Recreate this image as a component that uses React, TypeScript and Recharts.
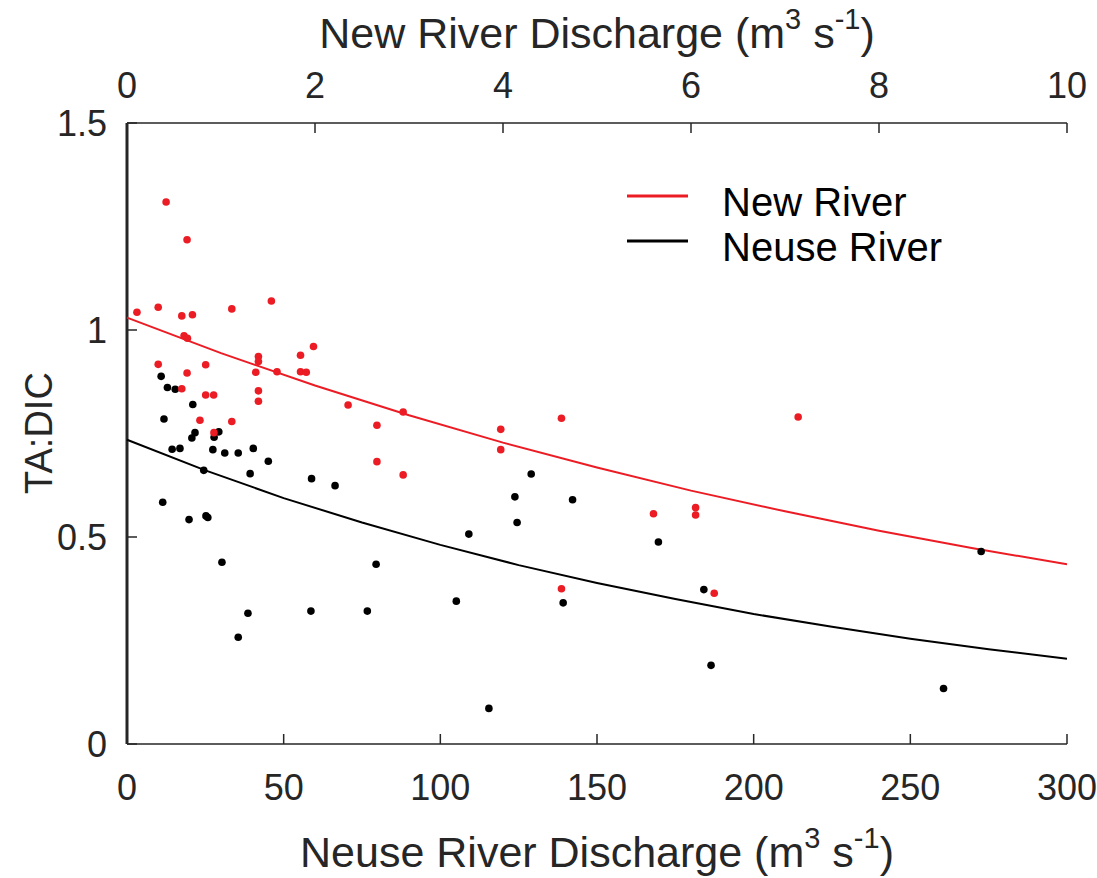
import React from 'react';
import { ScatterChart, Scatter, XAxis, YAxis, Legend } from 'recharts';

// Neuse River samples (bottom axis, m3 s-1)
const neuseQ = [
  10.9, 12.9, 15.4, 21.0, 11.8, 21.7, 20.7, 29.3, 27.8, 14.4, 16.9, 27.4, 31.2, 35.5, 40.3,
  45.1, 24.5, 39.3, 58.9, 66.4, 11.4, 19.8, 25.2, 25.8, 30.3, 38.6, 58.7, 35.5, 129.0, 123.8,
  142.2, 124.5, 109.1, 79.5, 105.1, 76.7, 139.2, 115.5, 169.6, 184.1, 186.4, 272.6, 260.6,
];
const neuseRatio = [
  0.888, 0.861, 0.857, 0.82, 0.785, 0.752, 0.739, 0.754, 0.741, 0.712, 0.714, 0.711, 0.703, 0.703, 0.714,
  0.683, 0.661, 0.653, 0.641, 0.624, 0.584, 0.542, 0.551, 0.547, 0.439, 0.316, 0.321, 0.258, 0.652, 0.597,
  0.59, 0.535, 0.507, 0.434, 0.345, 0.321, 0.341, 0.086, 0.488, 0.373, 0.19, 0.465, 0.134,
];

// New River samples (top axis, m3 s-1)
const newQ = [
  0.416, 0.639, 0.106, 0.332, 0.583, 0.696, 1.115, 1.536, 0.607, 0.643, 0.332, 0.837, 1.398, 1.398, 1.37,
  1.846, 1.984, 1.596, 1.846, 1.907, 0.639, 0.583, 0.837, 0.922, 1.398, 1.398, 0.776, 1.115, 0.925, 2.352,
  2.938, 2.659, 2.659, 2.938, 3.976, 3.976, 4.622, 4.622, 7.14, 5.601, 6.049, 6.049, 6.247,
];
const newRatio = [
  1.309, 1.218, 1.043, 1.055, 1.034, 1.037, 1.051, 1.07, 0.986, 0.98, 0.917, 0.916, 0.936, 0.924, 0.898,
  0.939, 0.96, 0.899, 0.899, 0.898, 0.896, 0.858, 0.843, 0.843, 0.853, 0.828, 0.782, 0.779, 0.752, 0.819,
  0.802, 0.77, 0.682, 0.65, 0.76, 0.711, 0.787, 0.375, 0.79, 0.556, 0.571, 0.553, 0.364,
];

// fitted curves
const newFitQ = [0, 1, 2, 3, 4, 5, 6, 7, 8, 9, 10];
const newFitRatio = [1.03, 0.944, 0.866, 0.794, 0.728, 0.668, 0.612, 0.562, 0.515, 0.473, 0.434];
const neuseFitQ = [0, 25, 50, 75, 100, 125, 150, 175, 200, 225, 250, 275, 300];
const neuseFitRatio = [0.735, 0.661, 0.594, 0.535, 0.481, 0.432, 0.389, 0.35, 0.314, 0.283, 0.254, 0.229, 0.206];

const legendOrder = ['New River', 'Neuse River'];
const bottomTicks = [0, 50, 100, 150, 200, 250, 300];
const topTicks = [0, 2, 4, 6, 8, 10];
const yTicks = [0, 0.5, 1, 1.5];

const RED = '#ec1c24';
const BLACK = '#000000';
const AXIS = '#262626';
const FONT = '"Liberation Sans", Arial, Helvetica, sans-serif';

const toPoints = (xs: number[], ys: number[]) => xs.map((x, i) => ({ x, y: ys[i] }));

const neuseData = toPoints(neuseQ, neuseRatio);
const newData = toPoints(newQ, newRatio);
const newFit = toPoints(newFitQ, newFitRatio);
const neuseFit = toPoints(neuseFitQ, neuseFitRatio);

const Dot = (color: string) => (props: any) => (
  <circle cx={props.cx} cy={props.cy} r={3.8} fill={color} />
);

const NoShape = () => <g />;

const renderLegend = (props: any) => {
  const items = (props.payload || [])
    .filter((p: any) => legendOrder.includes(p.value))
    .sort((a: any, b: any) => legendOrder.indexOf(a.value) - legendOrder.indexOf(b.value));
  return (
    <svg width={360} height={100} style={{ display: 'block' }}>
      {items.map((item: any, i: number) => (
        <g key={item.value}>
          <line x1={7} x2={68} y1={26 + i * 45} y2={26 + i * 45} stroke={item.color} strokeWidth={3} />
          <text x={102} y={46 + i * 45} fontSize={40} fill="#000" fontFamily={FONT}>
            {item.value}
          </text>
        </g>
      ))}
    </svg>
  );
};

const Title = (label: string, baseline: number) => (props: any) => {
  const vb = props.viewBox;
  return (
    <text x={vb.x + vb.width / 2} y={baseline} textAnchor="middle" fontSize={43} fill={AXIS} fontFamily={FONT}>
      {label} (m
      <tspan dy={-19} fontSize={29}>3</tspan>
      <tspan dy={19}> s</tspan>
      <tspan dy={-19} fontSize={29}>-1</tspan>
      <tspan dy={19}>)</tspan>
    </text>
  );
};

const LeftTitle = () => (
  <text
    x={52}
    y={433}
    transform="rotate(-90 52 433)"
    textAnchor="middle"
    fontSize={38}
    fill={AXIS}
    fontFamily={FONT}
  >
    TA:DIC
  </text>
);

const tickStyle = { fontSize: 36, fill: AXIS, fontFamily: FONT };

export default function App() {
  return (
    <div style={{ position: 'absolute', left: 0, top: 0, background: '#fff', fontFamily: FONT }}>
      <ScatterChart width={1097} height={878} margin={{ top: 63, right: 30, bottom: 74, left: 47 }}>
        <XAxis
          xAxisId="neuse"
          orientation="bottom"
          type="number"
          dataKey="x"
          domain={[0, 300]}
          ticks={bottomTicks}
          interval={0}
          height={60}
          tick={tickStyle}
          tickSize={-10}
          tickMargin={40}
          axisLine={{ stroke: AXIS, strokeWidth: 1.5 }}
          tickLine={{ stroke: AXIS, strokeWidth: 1.5 }}
          label={{ content: Title('Neuse River Discharge', 867) }}
        />
        <XAxis
          xAxisId="new"
          orientation="top"
          type="number"
          dataKey="x"
          domain={[0, 10]}
          ticks={topTicks}
          interval={0}
          height={60}
          tick={tickStyle}
          tickSize={-10}
          tickMargin={35}
          axisLine={{ stroke: AXIS, strokeWidth: 1.5 }}
          tickLine={{ stroke: AXIS, strokeWidth: 1.5 }}
          label={{ content: Title('New River Discharge', 48) }}
        />
        <YAxis
          type="number"
          dataKey="y"
          domain={[0, 1.5]}
          ticks={yTicks}
          interval={0}
          width={80}
          tick={tickStyle}
          tickSize={-10}
          tickMargin={30}
          axisLine={{ stroke: AXIS, strokeWidth: 3 }}
          tickLine={{ stroke: AXIS, strokeWidth: 1.5 }}
          label={{ content: LeftTitle }}
        />
        <Legend
          layout="vertical"
          align="center"
          verticalAlign="middle"
          content={renderLegend}
          wrapperStyle={{ left: 620, top: 170, width: 360, height: 100 }}
        />
        <Scatter
          name="New River"
          data={newFit}
          xAxisId="new"
          fill={RED}
          line={{ stroke: RED, strokeWidth: 2 }}
          lineType="joint"
          shape={NoShape}
          isAnimationActive={false}
        />
        <Scatter
          name="Neuse River"
          data={neuseFit}
          xAxisId="neuse"
          fill={BLACK}
          line={{ stroke: BLACK, strokeWidth: 2 }}
          lineType="joint"
          shape={NoShape}
          isAnimationActive={false}
        />
        <Scatter
          name="Neuse samples"
          data={neuseData}
          xAxisId="neuse"
          fill={BLACK}
          legendType="none"
          shape={Dot(BLACK)}
          isAnimationActive={false}
        />
        <Scatter
          name="New samples"
          data={newData}
          xAxisId="new"
          fill={RED}
          legendType="none"
          shape={Dot(RED)}
          isAnimationActive={false}
        />
      </ScatterChart>
    </div>
  );
}
